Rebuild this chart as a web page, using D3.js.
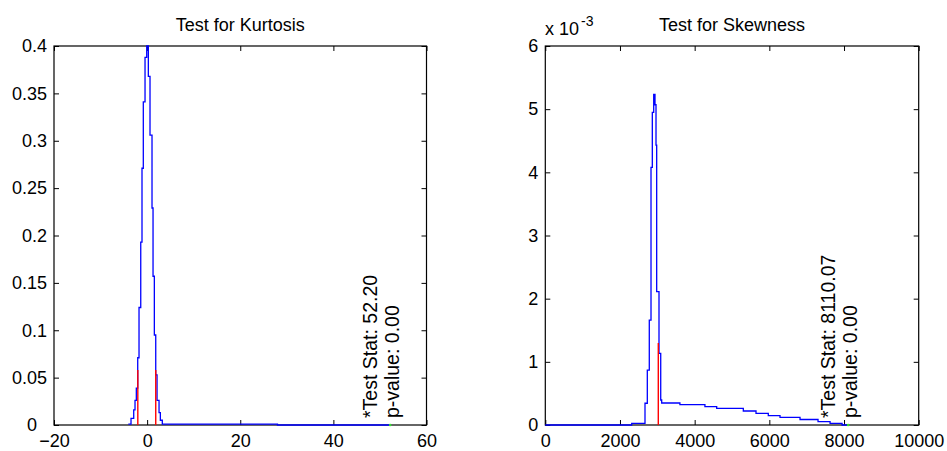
<!DOCTYPE html>
<html>
<head>
<meta charset="utf-8">
<script src="https://cdn.jsdelivr.net/npm/d3@7"></script>
<style>
  body { margin: 0; background: #fff; }
  svg { display: block; font-family: "Liberation Sans", Arial, sans-serif; }
</style>
</head>
<body>
<svg id="grafico"></svg>
<script>
// painel 1: curtose (curva em degraus)
const curtoseX = [-4.04, -3.46, -2.88, -2.60, -2.32, -2.02, -1.74, -1.37, -1.10, -0.82, -0.45, -0.09, 0.26, 0.62, 1.05, 1.27, 1.55, 1.85, 2.13, 2.56, 2.84, 3.26, 28, 52.2];
const curtoseY = [0.001, 0.007, 0.016, 0.026, 0.039, 0.071, 0.124, 0.193, 0.271, 0.341, 0.388, 0.4, 0.368, 0.306, 0.229, 0.157, 0.095, 0.053, 0.026, 0.013, 0.005, 0.001, 0, 0];
const curtoseCriticosX = [-2.0, 1.85];
const curtoseCriticosY = [0.058, 0.058];
const curtoseEstatistica = 52.20;
const curtosePValor = 0.00;
const curtoseTicksX = [-20, 0, 20, 40, 60];
const curtoseTicksY = [0, 0.05, 0.1, 0.15, 0.2, 0.25, 0.3, 0.35, 0.4];

// painel 2: assimetria
const assimetriaX = [0, 2314, 2670, 2732, 2785, 2831, 2866, 2903, 2938, 2965, 2983, 3045, 3091, 3117, 3605, 4275, 4590, 5303, 5643, 5972, 6286, 6822, 7304, 7626, 7947, 8110];
const assimetriaY = [0, 0.000027, 0.000344, 0.00087, 0.00166, 0.00408, 0.00495, 0.005235, 0.00507, 0.00443, 0.00211, 0.001135, 0.000396, 0.000348, 0.000321, 0.00029, 0.000264, 0.000222, 0.000185, 0.000147, 0.000122, 0.000087, 0.000052, 0.000027, 0, 0];
const assimetriaCriticosX = [3026];
const assimetriaCriticosY = [0.0013];
const assimetriaEstatistica = 8110.07;
const assimetriaPValor = 0.00;
const assimetriaTicksX = [0, 2000, 4000, 6000, 8000, 10000];
const assimetriaTicksY = [0, 0.001, 0.002, 0.003, 0.004, 0.005, 0.006];

const svg = d3.select('#grafico').attr('width', 947).attr('height', 451);

function criaPainel(parametros) {
  const x = d3.scaleLinear().domain(parametros.dominioX).range([parametros.esquerda, parametros.direita]);
  const y = d3.scaleLinear().domain(parametros.dominioY).range([425, 46]);
  const g = svg.append('g');

  const eixoX = d3.axisBottom(x).tickValues(parametros.ticksX).tickSize(-5).tickPadding(9).tickFormat(d3.format('d'));
  const eixoY = d3.axisLeft(y).tickValues(parametros.ticksY).tickSize(-5).tickPadding(7).tickFormat(parametros.formatoY);
  const topo = d3.axisTop(x).tickValues(parametros.ticksX).tickSize(-5).tickFormat('');
  const direita = d3.axisRight(y).tickValues(parametros.ticksY).tickSize(-5).tickFormat('');

  g.append('g').attr('transform', 'translate(0, 425)').call(eixoX);
  const gY = g.append('g').attr('transform', 'translate(' + parametros.esquerda + ', 0)').call(eixoY);
  g.append('g').attr('transform', 'translate(0, 46)').call(topo);
  g.append('g').attr('transform', 'translate(' + parametros.direita + ', 0)').call(direita);

  g.selectAll('.domain').remove();
  g.selectAll('.tick line').attr('stroke', '#000');
  g.selectAll('.tick text').attr('fill', '#000').style('font-size', '18px');

  // o zero do eixo y fica um pouco para a esquerda, como no original
  gY.selectAll('.tick text').filter(d => d === 0).attr('dx', parametros.deslocaZero || 0);

  g.append('rect')
  .attr('x', parametros.esquerda)
  .attr('y', 46)
  .attr('width', parametros.direita - parametros.esquerda)
  .attr('height', 379)
  .attr('fill', 'none')
  .attr('stroke', '#000')
  .attr('stroke-width', 1.2);

  const pontos = parametros.xs.map((v, i) => [v, parametros.ys[i]]);
  const linha = d3.line().x(d => x(d[0])).y(d => y(d[1])).curve(d3.curveStepAfter);

  g.append('path')
  .datum(pontos)
  .attr('d', linha)
  .attr('fill', 'none')
  .attr('stroke', '#0000ff')
  .attr('stroke-width', 1.3);

  g.selectAll('.critico')
  .data(parametros.criticosX)
  .enter()
  .append('line')
  .attr('x1', d => x(d))
  .attr('x2', d => x(d))
  .attr('y1', y(0))
  .attr('y2', (d, i) => y(parametros.criticosY[i]))
  .attr('stroke', '#ff0000')
  .attr('stroke-width', 1.4);

  g.append('circle')
  .attr('cx', x(parametros.estatistica))
  .attr('cy', y(0))
  .attr('r', 1.3)
  .attr('fill', '#33dd33');

  g.append('text')
  .attr('x', (parametros.esquerda + parametros.direita) / 2)
  .attr('y', 31)
  .style('text-anchor', 'middle')
  .style('font-size', '18px')
  .text(parametros.titulo);

  const xs = x(parametros.estatistica);
  const rotulos = ['*Test Stat: ' + parametros.estatistica.toFixed(2), 'p-value: ' + parametros.pValor.toFixed(2)];
  g.selectAll('.rotulo')
  .data(rotulos)
  .enter()
  .append('text')
  .attr('transform', (d, i) => 'translate(' + (xs + (i === 0 ? -13.5 : 9)) + ', 418) rotate(-90)')
  .style('font-size', '19.5px')
  .text(d => d);

  return g;
}

criaPainel({
  esquerda: 54, direita: 426.5,
  dominioX: [-20, 60], dominioY: [0, 0.4],
  ticksX: curtoseTicksX, ticksY: curtoseTicksY,
  formatoY: d => String(+d.toFixed(2)),
  deslocaZero: -10,
  xs: curtoseX, ys: curtoseY,
  criticosX: curtoseCriticosX, criticosY: curtoseCriticosY,
  estatistica: curtoseEstatistica, pValor: curtosePValor,
  titulo: 'Test for Kurtosis'
});

const painel2 = criaPainel({
  esquerda: 545.3, direita: 918.7,
  dominioX: [0, 10000], dominioY: [0, 0.006],
  ticksX: assimetriaTicksX, ticksY: assimetriaTicksY,
  formatoY: d => String(Math.round(d * 1000)),
  xs: assimetriaX, ys: assimetriaY,
  criticosX: assimetriaCriticosX, criticosY: assimetriaCriticosY,
  estatistica: assimetriaEstatistica, pValor: assimetriaPValor,
  titulo: 'Test for Skewness'
});

// expoente do eixo y
painel2.append('text').attr('x', 545).attr('y', 35).style('font-size', '18px').text('x 10');
painel2.append('text').attr('x', 581).attr('y', 26).style('font-size', '14px').text('-3');
</script>
</body>
</html>
